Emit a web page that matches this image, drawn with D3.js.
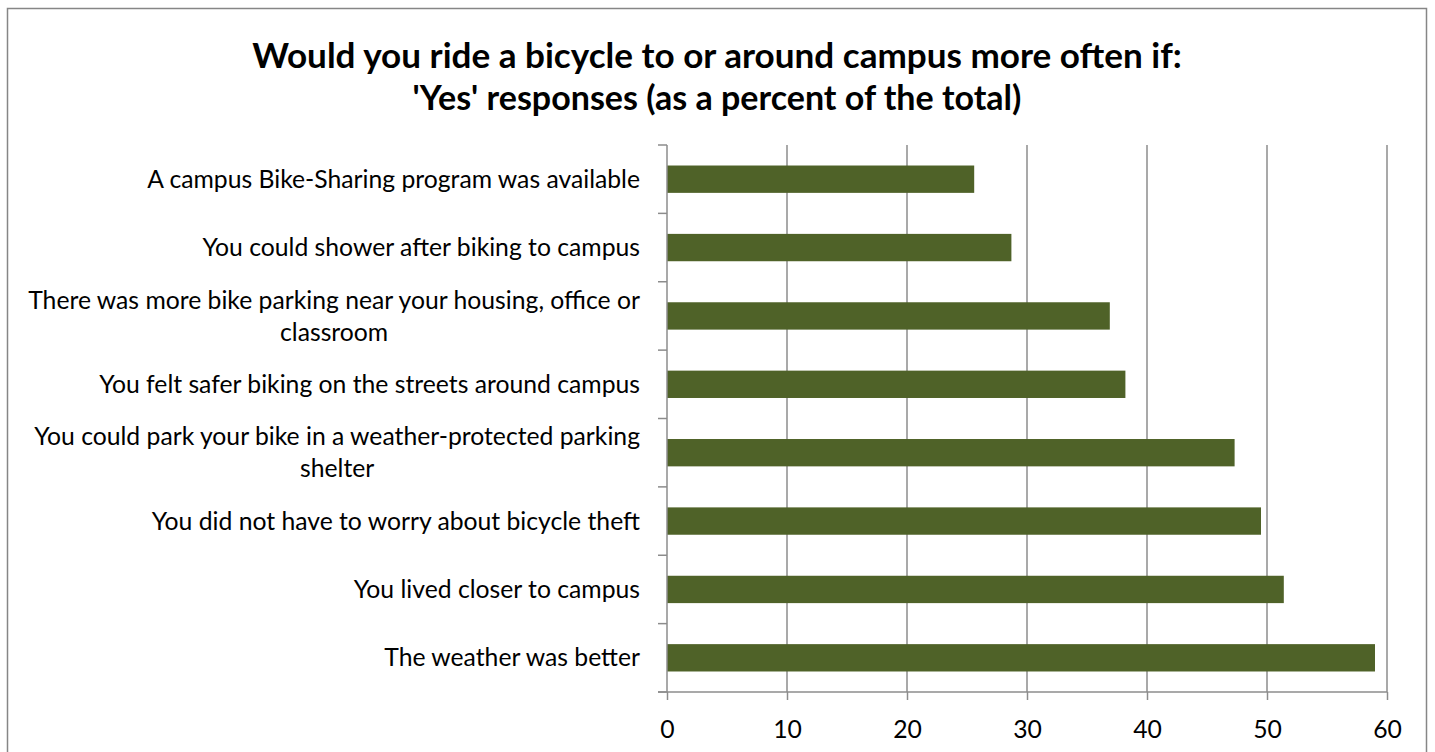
<!DOCTYPE html>
<html>
<head>
<meta charset="utf-8">
<script src="https://cdn.jsdelivr.net/npm/d3@7"></script>
<style>
  html, body { margin: 0; padding: 0; background: #fff; }
  svg { display: block; }
  text { font-family: Lato, "Open Sans", sans-serif; fill: #000; }
</style>
</head>
<body>
<svg id="chart" width="1435" height="752"></svg>
<script>
const titleText = "Would you ride a bicycle to or around campus more often if:";
const subtitleText = "'Yes' responses (as a percent of the total)";
const categories = [
  "A campus Bike-Sharing program was available",
  "You could shower after biking to campus",
  "There was more bike parking near your housing, office or classroom",
  "You felt safer biking on the streets around campus",
  "You could park your bike in a weather-protected parking shelter",
  "You did not have to worry about bicycle theft",
  "You lived closer to campus",
  "The weather was better"
];
const values = [25.6, 28.7, 36.9, 38.2, 47.3, 49.5, 51.4, 59.0];
const xTicks = [0, 10, 20, 30, 40, 50, 60];

const svg = d3.select("#chart");
const W = 1435, H = 752;
const plot = { left: 667, right: 1387, top: 145, bottom: 692 };
const barColor = "#4F6228";
const gridColor = "#8c8c8c";

// measure helper
const meas = svg.append("text").attr("x", -9999).attr("y", -9999);
function textWidth(str, size, weight) {
  meas.attr("font-size", size).attr("font-weight", weight || "normal").text(str);
  return meas.node().getComputedTextLength();
}
// fit font sizes to the reference widths
const labelSize = 20 * 493 / textWidth(categories[0], 20);
const titleSize = 20 * 930 / textWidth(titleText, 20, "bold");
const subSize = 20 * 609 / textWidth(subtitleText, 20, "bold");
meas.remove();

// outer border
svg.append("rect").attr("x", 7.5).attr("y", 8.5).attr("width", 1419).attr("height", 760)
  .attr("fill", "#fff").attr("stroke", "#868686").attr("stroke-width", 1.5);

// titles
svg.append("text").attr("x", 717).attr("y", 68).attr("text-anchor", "middle")
  .attr("font-size", titleSize).attr("font-weight", "bold").text(titleText);
svg.append("text").attr("x", 717).attr("y", 110).attr("text-anchor", "middle")
  .attr("font-size", subSize).attr("font-weight", "bold").text(subtitleText);

const x = d3.scaleLinear().domain([0, 60]).range([plot.left, plot.right]);
const y = d3.scaleBand().domain(categories).range([plot.top, plot.bottom])
  .paddingInner(0.6).paddingOuter(0.3);

// vertical gridlines
svg.append("g").selectAll("line").data(xTicks.filter(d => d > 0)).join("line")
  .attr("x1", d => x(d)).attr("x2", d => x(d))
  .attr("y1", plot.top).attr("y2", plot.bottom)
  .attr("stroke", gridColor).attr("stroke-width", 1.5);

// bars
svg.append("g").selectAll("rect").data(values).join("rect")
  .attr("x", x(0))
  .attr("y", (d, i) => y(categories[i]))
  .attr("width", d => x(d) - x(0))
  .attr("height", y.bandwidth())
  .attr("fill", barColor);

// x axis
const xAxis = d3.axisBottom(x).tickValues(xTicks).tickSize(8).tickPadding(20).tickSizeOuter(0);
const gx = svg.append("g").attr("transform", `translate(0,${plot.bottom})`).call(xAxis);
gx.select(".domain").remove();
gx.append("line").attr("x1", plot.left - 9).attr("x2", plot.right).attr("y1", 0).attr("y2", 0)
  .attr("stroke", gridColor).attr("stroke-width", 1.5);
gx.selectAll(".tick line").attr("stroke", gridColor).attr("stroke-width", 1.5);
gx.selectAll(".tick text").attr("font-size", labelSize).attr("font-family", "Lato, 'Open Sans', sans-serif")
  .attr("fill", "#000").attr("dy", "0.71em");

// y axis line and boundary ticks
const step = y.step();
const bounds = d3.range(categories.length + 1).map(i => plot.top + i * step);
svg.append("line").attr("x1", plot.left).attr("x2", plot.left)
  .attr("y1", plot.top).attr("y2", plot.bottom)
  .attr("stroke", gridColor).attr("stroke-width", 1.5);
svg.append("g").selectAll("line").data(bounds).join("line")
  .attr("x1", plot.left - 9).attr("x2", plot.left)
  .attr("y1", d => d).attr("y2", d => d)
  .attr("stroke", gridColor).attr("stroke-width", 1.5);

// category labels with wrapping (centered lines, block right-aligned)
const maxW = 630;
const measure2 = svg.append("text").attr("font-size", labelSize).attr("x", -9999);
function wrap(str) {
  const words = str.split(" ");
  const lines = [];
  let cur = "";
  words.forEach(w => {
    const t = cur ? cur + " " + w : w;
    measure2.text(t);
    if (measure2.node().getComputedTextLength() > maxW && cur) { lines.push(cur); cur = w; }
    else cur = t;
  });
  if (cur) lines.push(cur);
  return lines;
}
const lineH = 32;
const labelRight = 640;
categories.forEach((c, i) => {
  const lines = wrap(c);
  const widths = lines.map(l => { measure2.text(l); return measure2.node().getComputedTextLength(); });
  const blockW = d3.max(widths);
  const cx = labelRight - blockW / 2;
  const cy = y(c) + y.bandwidth() / 2;
  const t = svg.append("text").attr("font-size", labelSize).attr("text-anchor", "middle");
  lines.forEach((l, k) => {
    t.append("tspan").attr("x", cx)
      .attr("y", cy + (k - (lines.length - 1) / 2) * lineH)
      .attr("dy", "0.35em").text(l);
  });
});
measure2.remove();
</script>
</body>
</html>
